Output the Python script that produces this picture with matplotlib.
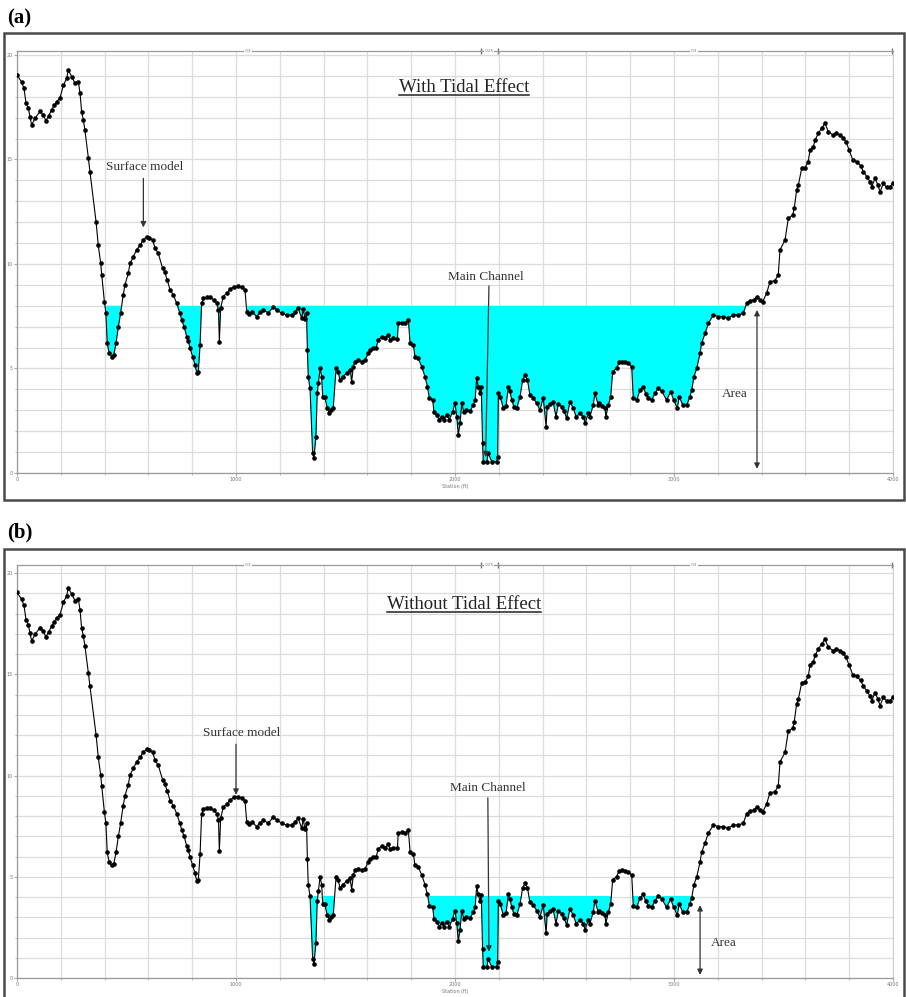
import matplotlib

matplotlib.use("Agg")

import matplotlib.pyplot as plt
from matplotlib.patches import Rectangle
from matplotlib.lines import Line2D
import numpy as np

# ground profile (station ft, elevation ft)
station = [
    0, 21, 32, 41, 52, 59, 67, 82, 105, 120, 132, 145, 158, 170, 181, 196,
    212, 227, 234, 250, 265, 280, 288, 295, 303, 310, 326, 333, 361, 371,
    382, 387, 399, 406, 412, 421, 432, 442, 452, 463, 473, 485, 493, 508,
    516, 531, 546, 562, 577, 592, 605, 620, 630, 645, 665, 675, 686, 699,
    714, 729, 744, 752, 763, 775, 783, 790, 802, 813, 821, 828, 836, 843,
    851, 866, 881, 900, 912, 920, 924, 930, 942, 957, 973, 991, 1011, 1026,
    1041, 1049, 1058, 1075, 1094, 1110, 1125, 1148, 1171, 1186, 1209, 1232,
    1254, 1270, 1284, 1300, 1307, 1315, 1322, 1326, 1330, 1338, 1350, 1356,
    1365, 1371, 1376, 1384, 1391, 1396, 1405, 1417, 1426, 1436, 1444, 1457,
    1466, 1475, 1487, 1505, 1521, 1528, 1536, 1543, 1558, 1574, 1589, 1604,
    1612, 1627, 1639, 1650, 1665, 1680, 1696, 1703, 1718, 1737, 1741, 1756,
    1772, 1787, 1795, 1810, 1817, 1832, 1848, 1863, 1874, 1883, 1898, 1904,
    1916, 1928, 1940, 1950, 1962, 1974, 1989, 2000, 2008, 2015, 2023, 2031,
    2040, 2050, 2068, 2084, 2092, 2099, 2106, 2114, 2120, 2126, 2129, 2145,
    2152, 2168, 2190, 2195, 2198, 2206, 2221, 2233, 2244, 2251, 2259, 2269,
    2282, 2297, 2309, 2320, 2331, 2342, 2358, 2373, 2388, 2403, 2416, 2421,
    2433, 2448, 2461, 2472, 2487, 2498, 2510, 2525, 2540, 2553, 2571, 2586,
    2594, 2609, 2616, 2631, 2639, 2654, 2659, 2670, 2685, 2689, 2700, 2711,
    2720, 2738, 2750, 2761, 2776, 2791, 2807, 2814, 2830, 2845, 2860, 2870,
    2883, 2898, 2913, 2928, 2945, 2966, 2985, 2998, 3015, 3024, 3040, 3058,
    3073, 3081, 3091, 3104, 3119, 3126, 3142, 3157, 3180, 3203, 3225, 3248,
    3271, 3294, 3316, 3332, 3345, 3365, 3378, 3392, 3405, 3423, 3438, 3460,
    3476, 3484, 3507, 3522, 3542, 3549, 3560, 3568, 3583, 3598, 3613, 3621,
    3636, 3644, 3659, 3674, 3689, 3705, 3727, 3742, 3758, 3772, 3785, 3800,
    3816, 3834, 3852, 3865, 3880, 3895, 3903, 3918, 3930, 3941, 3956, 3971,
    3986, 3998,
]
elevation = [
    19.05, 18.7, 18.4, 17.7, 17.45, 17.05, 16.65, 16.97, 17.3, 17.13, 16.85,
    17.1, 17.37, 17.6, 17.77, 17.93, 18.56, 18.88, 19.28, 18.96, 18.64,
    18.72, 18.17, 17.29, 16.89, 16.41, 15.06, 14.42, 12.02, 10.91, 10.05,
    9.47, 8.2, 7.64, 6.2, 5.73, 5.57, 5.65, 6.2, 7.0, 7.64, 8.52, 9.0, 9.55,
    10.03, 10.35, 10.67, 10.91, 11.15, 11.31, 11.25, 11.15, 10.75, 10.51,
    9.79, 9.6, 9.23, 8.76, 8.52, 8.12, 7.64, 7.32, 7.0, 6.52, 6.3, 5.97,
    5.57, 5.17, 4.77, 4.85, 6.12, 8.12, 8.36, 8.41, 8.41, 8.28, 8.12, 7.8,
    6.28, 7.9, 8.44, 8.6, 8.79, 8.92, 8.95, 8.88, 8.76, 7.72, 7.6, 7.7,
    7.48, 7.68, 7.8, 7.65, 7.96, 7.8, 7.64, 7.55, 7.56, 7.72, 7.88, 7.4,
    7.85, 7.35, 7.65, 5.88, 4.61, 4.05, 0.94, 0.7, 1.74, 3.81, 4.29, 5.01,
    4.61, 3.65, 3.65, 3.1, 2.86, 3.0, 3.1, 5.01, 4.85, 4.45, 4.61, 4.77,
    4.93, 4.37, 5.09, 5.33, 5.4, 5.33, 5.4, 5.73, 5.89, 5.97, 5.97, 6.36,
    6.52, 6.44, 6.6, 6.36, 6.44, 6.4, 7.16, 7.2, 7.16, 7.32, 6.2, 6.12,
    5.57, 5.49, 5.09, 4.61, 4.13, 3.57, 3.5, 2.93, 2.78, 2.54, 2.7, 2.54,
    2.78, 2.54, 2.93, 3.33, 2.7, 1.82, 2.38, 3.33, 2.9, 3.01, 2.95, 3.25,
    3.5, 4.53, 4.13, 3.81, 4.1, 1.42, 0.54, 0.54, 0.94, 0.54, 0.54, 0.78,
    3.81, 3.65, 3.1, 3.2, 4.13, 3.9, 3.49, 3.17, 3.1, 3.65, 4.45, 4.69,
    4.45, 3.73, 3.6, 3.33, 3.01, 3.6, 2.22, 3.17, 3.3, 3.41, 2.69, 3.3,
    3.17, 2.95, 2.62, 3.41, 3.1, 2.69, 2.85, 2.69, 2.38, 2.86, 2.69, 3.25,
    3.81, 3.25, 3.33, 3.2, 3.1, 2.69, 3.25, 3.65, 4.85, 5.01, 5.3, 5.33,
    5.3, 5.25, 5.09, 3.57, 3.49, 3.97, 4.13, 3.8, 3.57, 3.49, 3.81, 4.05,
    3.9, 3.49, 3.89, 3.5, 3.1, 3.65, 3.25, 3.25, 3.65, 3.97, 4.61, 5.01,
    5.73, 6.2, 6.68, 7.16, 7.56, 7.48, 7.48, 7.4, 7.56, 7.56, 7.64, 8.12,
    8.25, 8.28, 8.44, 8.3, 8.2, 8.6, 9.15, 9.2, 9.47, 10.67, 11.15, 12.19,
    12.34, 12.66, 13.54, 13.78, 14.58, 14.6, 14.9, 15.45, 15.6, 15.93,
    16.25, 16.49, 16.73, 16.33, 16.17, 16.25, 16.17, 16.05, 15.85, 15.45,
    14.98, 14.9, 14.7, 14.42, 14.18, 13.94, 13.7, 14.1, 13.8, 13.46, 13.86,
    13.67, 13.67, 13.86,
]

panel_labels = ["(a)", "(b)"]
titles = ["With Tidal Effect", "Without Tidal Effect"]
water_levels = [8.0, 4.05]
n_values = [".03", ".025", ".03"]
n_stations = [1055, 2157, 3091]
bank_stations = [2118, 2196, 3995]

W, H = 906, 997
fig = plt.figure(figsize=(W / 100, H / 100), dpi=100)

serif = ["Liberation Serif", "DejaVu Serif"]
dark = "#333333"


def fx(px):
    return px / W


def fy(py):
    return 1 - py / H


# panel geometry in pixels: frame box, axes box, y top limit
panels = [
    dict(frame=(4, 33, 904, 500), axes=(17, 51, 893, 473), ytop=20.19, lab_y=18),
    dict(frame=(4, 549, 904, 1005), axes=(17, 565, 893, 978), ytop=20.4, lab_y=532),
]

st = np.array(station)
el = np.array(elevation)

axes = []
for i, p in enumerate(panels):
    x0, y0, x1, y1 = p["frame"]
    fig.patches.append(Rectangle((fx(x0), fy(y1)), fx(x1 - x0), (y1 - y0) / H,
                                 transform=fig.transFigure, fill=False,
                                 edgecolor="#4a4a4a", linewidth=1.8))
    fig.text(fx(7), fy(p["lab_y"]), panel_labels[i], fontsize=15,
             fontweight="bold", family=serif, va="center", ha="left")

    a0, b0, a1, b1 = p["axes"]
    ax = fig.add_axes([fx(a0), fy(b1), fx(a1 - a0), (b1 - b0) / H])
    axes.append(ax)
    ax.set_xlim(0, 4000)
    ax.set_ylim(0, p["ytop"])

    ax.set_xticks(range(0, 4001, 1000))
    ax.set_xticks(range(0, 4001, 200), minor=True)
    ax.set_yticks(range(0, 21, 5))
    ax.set_yticks(range(0, 21, 1), minor=True)
    ax.grid(True, which="both", color="#dcdcdc", linewidth=0.9)
    ax.set_axisbelow(True)
    ax.tick_params(which="both", labelsize=3.5, labelcolor="#777777",
                   color="#aaaaaa", length=2, pad=1)
    ax.tick_params(which="minor", length=1.5)
    ax.set_xlabel("Station (ft)", fontsize=3.5, color="#777777", labelpad=1)
    for s in ["left", "bottom", "top"]:
        ax.spines[s].set_color("#9a9a9a")
        ax.spines[s].set_linewidth(0.9)
    ax.spines["right"].set_color("#d0d0d0")

    ws = water_levels[i]
    ax.fill_between(st, el, ws, where=el < ws, interpolate=True,
                    color="#00ffff", linewidth=0, zorder=2)
    ax.plot(st, el, color="black", linewidth=0.8, marker="o", markersize=2.3,
            zorder=3)

    # Manning's n line at the top of the plot
    for s_, n in zip(n_stations, n_values):
        ax.text(s_, p["ytop"], n, fontsize=3, color="#777777", ha="center",
                va="center", bbox=dict(facecolor="white", edgecolor="none",
                                       pad=0.3))
    ax.plot(bank_stations, [p["ytop"]] * 3, linestyle="none", marker="|",
            markersize=5, color="#777777", clip_on=False)

    t = ax.text(2040, 18.45, titles[i], fontsize=13.5, family=serif,
                color="#222222", ha="center", va="center")
    t.set_gid("title%d" % i)

arrow = dict(arrowstyle="-|>", color=dark, lw=0.9, mutation_scale=8,
             shrinkA=0, shrinkB=0)
double = dict(arrowstyle="<|-|>", color=dark, lw=0.9, mutation_scale=8,
              shrinkA=0, shrinkB=0)
tkw = dict(fontsize=9.5, family=serif, color=dark)

ax = axes[0]
ax.text(582, 14.65, "Surface model", ha="center", va="center", **tkw)
ax.annotate("", xy=(577, 11.75), xytext=(577, 14.1), arrowprops=arrow)
ax.text(2142, 9.4, "Main Channel", ha="center", va="center", **tkw)
ax.annotate("", xy=(2140, 0.75), xytext=(2155, 8.95), arrowprops=arrow)
ax.annotate("", xy=(3379, 0.2), xytext=(3379, 7.8), arrowprops=double)
ax.text(3335, 3.8, "Area", ha="right", va="center", **tkw)

ax = axes[1]
ax.text(1025, 12.1, "Surface model", ha="center", va="center", **tkw)
ax.annotate("", xy=(1000, 9.05), xytext=(1000, 11.55), arrowprops=arrow)
ax.text(2150, 9.4, "Main Channel", ha="center", va="center", **tkw)
ax.annotate("", xy=(2155, 1.3), xytext=(2150, 8.9), arrowprops=arrow)
ax.annotate("", xy=(3119, 0.15), xytext=(3119, 3.6), arrowprops=double)
ax.text(3170, 1.75, "Area", ha="left", va="center", **tkw)

# underline the panel titles
fig.canvas.draw()
renderer = fig.canvas.get_renderer()
for ax in axes:
    for t in ax.texts:
        if t.get_gid() and t.get_gid().startswith("title"):
            bb = t.get_window_extent(renderer)
            yline = bb.y0 + 1
            fig.lines.append(Line2D([bb.x0 / W / 1.0 * 1, bb.x1 / W],
                                    [yline / H, yline / H],
                                    transform=fig.transFigure,
                                    color="#222222", linewidth=1.1))

fig.savefig("out.png", dpi=100)
plt.close(fig)
